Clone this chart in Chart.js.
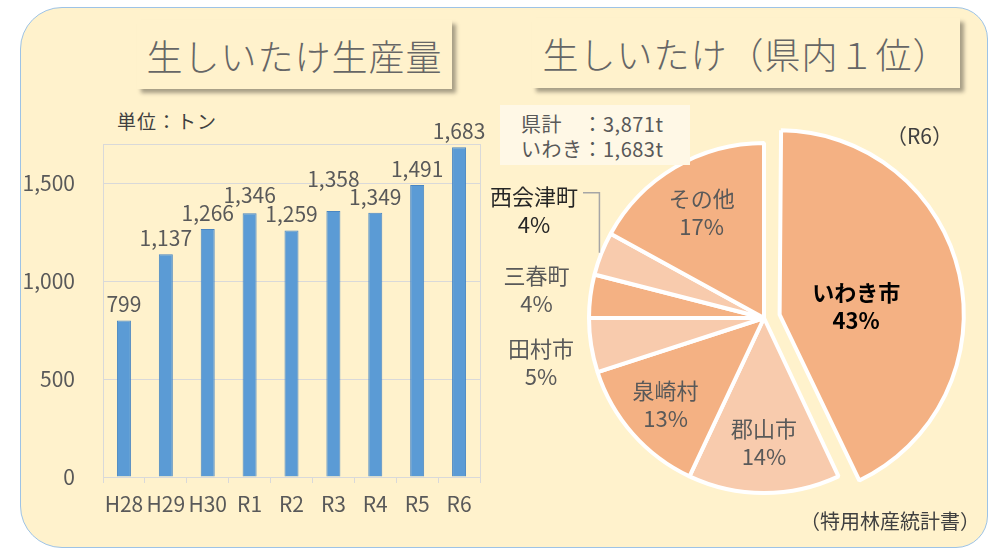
<!DOCTYPE html>
<html lang="ja">
<head>
<meta charset="utf-8">
<script src="https://cdn.jsdelivr.net/npm/chart.js@4.4.1/dist/chart.umd.min.js"></script>
<style>
  body { margin: 0; width: 988px; height: 552px; overflow: hidden; background: #fff; position: relative;
         font-family: "Noto Sans CJK JP", "Noto Sans", sans-serif; }
  .panel { position: absolute; left: 20px; top: 7px; width: 966px; height: 539px; background: #FFF2CC;
           border: 1.5px solid #9DC3E6; border-radius: 42px 32px 32px 42px; }
  .title { position: absolute; background: #FFF2CC; box-shadow: 4px 4px 4px rgba(0,0,0,.35); color: #666;
           font-size: 36px; font-weight: 300; letter-spacing: 1px; display: flex; align-items: center; justify-content: center; }
  .txt { position: absolute; white-space: nowrap; }
  canvas { position: absolute; }
</style>
</head>
<body>
<div class="panel"></div>
<div class="title" style="left:137px;top:20px;width:315px;height:69px">生しいたけ生産量</div>
<div class="title" style="left:532px;top:18px;width:428px;height:70px">生しいたけ（県内１位）</div>
<div class="txt" style="left:117px;top:107px;font-size:19px;letter-spacing:1px;color:#404040">単位：トン</div>

<canvas id="chartBar" width="470" height="430" style="left:20px;top:100px"></canvas>
<canvas id="chartPie" width="508" height="440" style="left:480px;top:100px"></canvas>

<div class="txt" style="left:500px;top:105px;width:190px;height:60px;background:#FFF8E6;"></div>
<div class="txt" style="left:521px;top:111px;font-size:20px;letter-spacing:0.5px;line-height:25px;color:#595959">県計　：3,871t<br>いわき：1,683t</div>
<div class="txt" style="left:886px;top:120px;font-size:21px;color:#404040">（R6）</div>
<div class="txt" style="left:800px;top:506px;font-size:20px;color:#404040">（特用林産統計書）</div>

<script>
// 生産量（トン）
const years = ['H28', 'H29', 'H30', 'R1', 'R2', 'R3', 'R4', 'R5', 'R6']
const production = [799, 1137, 1266, 1346, 1259, 1358, 1349, 1491, 1683]
const yTicks = [0, 500, 1000, 1500]
const yMax = 1700

// 県内シェア（R6, %）
const areas = ['いわき市', '郡山市', '泉崎村', '田村市', '三春町', '西会津町', 'その他']
const shares = [43, 14, 13, 5, 4, 4, 17]

const FONT = '"Noto Sans CJK JP", "Noto Sans", sans-serif'
const pieColors = ['#F4B183', '#F8CBAD', '#F4B183', '#F8CBAD', '#F4B183', '#F8CBAD', '#F4B183']
// ラベル位置（半径に対する比率・角度）
const pieLabelRadius = [0.44, 0.71, 0.75, 1.3, 1.31, 1.45, 0.7]
const pieLabelAngle = [84, null, null, 258.6, null, 295, null]

// 枠線（右側）
const frame = {
    id: 'frame',
    beforeDatasetsDraw(chart) {
        const { ctx, chartArea: a } = chart
        ctx.save()
        ctx.strokeStyle = '#D9D9D9'
        ctx.lineWidth = 1
        ctx.beginPath()
        ctx.moveTo(Math.round(a.right) + 0.5, a.top)
        ctx.lineTo(Math.round(a.right) + 0.5, a.bottom)
        ctx.stroke()
        ctx.restore()
    }
}

// 棒の上に値を表示（重なる場合は高い方を上にずらす）
const barValueLabels = {
    id: 'barValueLabels',
    afterDatasetsDraw(chart) {
        const ctx = chart.ctx
        const meta = chart.getDatasetMeta(0)
        ctx.save()
        ctx.font = '21px ' + FONT
        ctx.fillStyle = '#595959'
        ctx.textAlign = 'center'
        ctx.textBaseline = 'alphabetic'
        const items = meta.data.map((bar, i) => {
            const txt = production[i].toLocaleString('en-US')
            const m = ctx.measureText(txt)
            return { txt, x: bar.x, bottom: bar.y - 8, w: m.width, h: m.actualBoundingBoxAscent, v: production[i] }
        })
        for (let pass = 0; pass < 3; pass++) {
            for (let i = 1; i < items.length; i++) {
                const a = items[i - 1], b = items[i]
                if (Math.abs(a.x - b.x) >= (a.w + b.w) / 2) continue
                const hi = a.v > b.v ? a : b
                const lo = hi === a ? b : a
                const limit = lo.bottom - lo.h - 2
                if (hi.bottom > limit) hi.bottom = limit
            }
        }
        items.forEach(it => ctx.fillText(it.txt, it.x, it.bottom))
        ctx.restore()
    }
}

// 円グラフのラベル
const pieLabels = {
    id: 'pieLabels',
    afterDatasetsDraw(chart) {
        const ctx = chart.ctx
        const meta = chart.getDatasetMeta(0)
        ctx.save()
        ctx.textAlign = 'center'
        ctx.textBaseline = 'middle'
        meta.data.forEach((arc, i) => {
            const half = (arc.startAngle + arc.endAngle) / 2
            const ang = pieLabelAngle[i] != null ? pieLabelAngle[i] * Math.PI / 180 - Math.PI / 2 : half
            const off = (arc.options.offset || 0) / 4
            const cx = arc.x + Math.cos(half) * off
            const cy = arc.y + Math.sin(half) * off
            const r = arc.outerRadius * pieLabelRadius[i]
            const x = cx + Math.cos(ang) * r
            const y = cy + Math.sin(ang) * r
            const bold = i === 0
            ctx.font = (bold ? 'bold ' : '') + '22px ' + FONT
            ctx.fillStyle = bold ? '#000' : (i === 5 ? '#262626' : '#595959')
            ctx.fillText(areas[i], x, y - 14)
            ctx.fillText(shares[i] + '%', x, y + 14)

            if (i === 5) {
                // 引き出し線
                const ex = arc.x + Math.cos(half) * (arc.outerRadius + 2)
                const ey = arc.y + Math.sin(half) * (arc.outerRadius + 2)
                const w = ctx.measureText(areas[i]).width
                ctx.strokeStyle = '#A6A6A6'
                ctx.lineWidth = 1.5
                ctx.beginPath()
                ctx.moveTo(ex, ey)
                ctx.lineTo(ex, y - 18)
                ctx.lineTo(x + w / 2 + 5, y - 18)
                ctx.stroke()
            }
        })
        ctx.restore()
    }
}

new Chart(document.getElementById('chartBar'), {
    type: 'bar',
    data: {
        labels: years,
        datasets: [{ data: production, backgroundColor: '#5B9BD5', borderColor: '#4A86C2', borderWidth: 1,
                     barPercentage: 0.5, categoryPercentage: 0.668 }]
    },
    options: {
        responsive: false, animation: false, events: [],
        layout: { padding: { top: 44, right: 10, left: 0, bottom: 0 } },
        plugins: { legend: { display: false }, tooltip: { enabled: false } },
        scales: {
            x: {
                grid: { drawOnChartArea: false, color: '#D9D9D9', tickLength: 6, offset: true },
                border: { color: '#D9D9D9' },
                ticks: { color: '#595959', font: { size: 21, family: FONT }, padding: 8, maxRotation: 0, autoSkip: false },
                afterFit(s) { s.height = 53 }
            },
            y: {
                min: 0, max: yMax,
                grid: { color: '#D9D9D9', drawTicks: false },
                border: { color: '#D9D9D9' },
                ticks: { color: '#595959', font: { size: 21, family: FONT }, padding: 28,
                         callback: v => yTicks.includes(v) ? v.toLocaleString('en-US') : '' },
                afterBuildTicks(s) { s.ticks = yTicks.concat([yMax]).map(v => ({ value: v })) },
                afterFit(s) { s.width = 83 }
            }
        }
    },
    plugins: [frame, barValueLabels]
})

new Chart(document.getElementById('chartPie'), {
    type: 'pie',
    data: {
        labels: areas,
        datasets: [{ data: shares, backgroundColor: pieColors, borderColor: '#fff', borderWidth: 4,
                     offset: [64, 0, 0, 0, 0, 0, 0] }]
    },
    options: {
        responsive: false, animation: false, events: [],
        radius: 175,
        layout: { padding: { left: 80, right: 20, top: 20, bottom: 24 } },
        plugins: { legend: { display: false }, tooltip: { enabled: false } }
    },
    plugins: [pieLabels]
})
</script>
</body>
</html>
